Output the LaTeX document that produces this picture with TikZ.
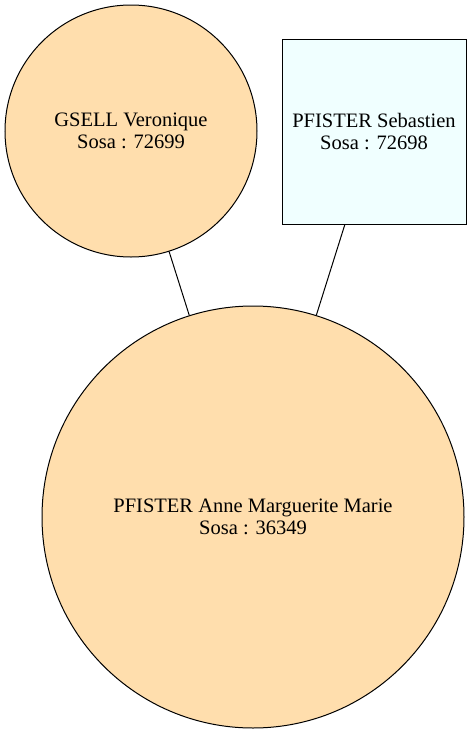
\documentclass[tikz,border=0pt]{standalone}
\usepackage{fontspec}
\setmainfont{Liberation Serif}
\definecolor{navajo}{HTML}{FFDEAD}
\definecolor{azurebox}{HTML}{F0FFFF}
\begin{document}
\begin{tikzpicture}[x=1pt,y=-1pt,
  person/.style={draw=black, line width=1pt, align=center, inner sep=0pt,
    font=\fontsize{20.5}{22.5}\selectfont},
  female/.style={person, circle, fill=navajo},
  male/.style={person, rectangle, fill=azurebox},
  link/.style={draw=black, line width=1pt}]
\useasboundingbox (0,0) rectangle (472,737);
\node[female, minimum size=252pt] (mother) at (131,131) {GSELL Veronique\\Sosa : 72699};
\node[male, minimum width=184pt, minimum height=185pt] (father) at (374,131.5) {PFISTER Sebastien\\Sosa : 72698};
\node[female, minimum size=422pt] (child) at (253,517) {PFISTER Anne Marguerite Marie\\Sosa : 36349};
\draw[link] (mother) -- (child);
\draw[link] (father) -- (child);
\end{tikzpicture}
\end{document}
